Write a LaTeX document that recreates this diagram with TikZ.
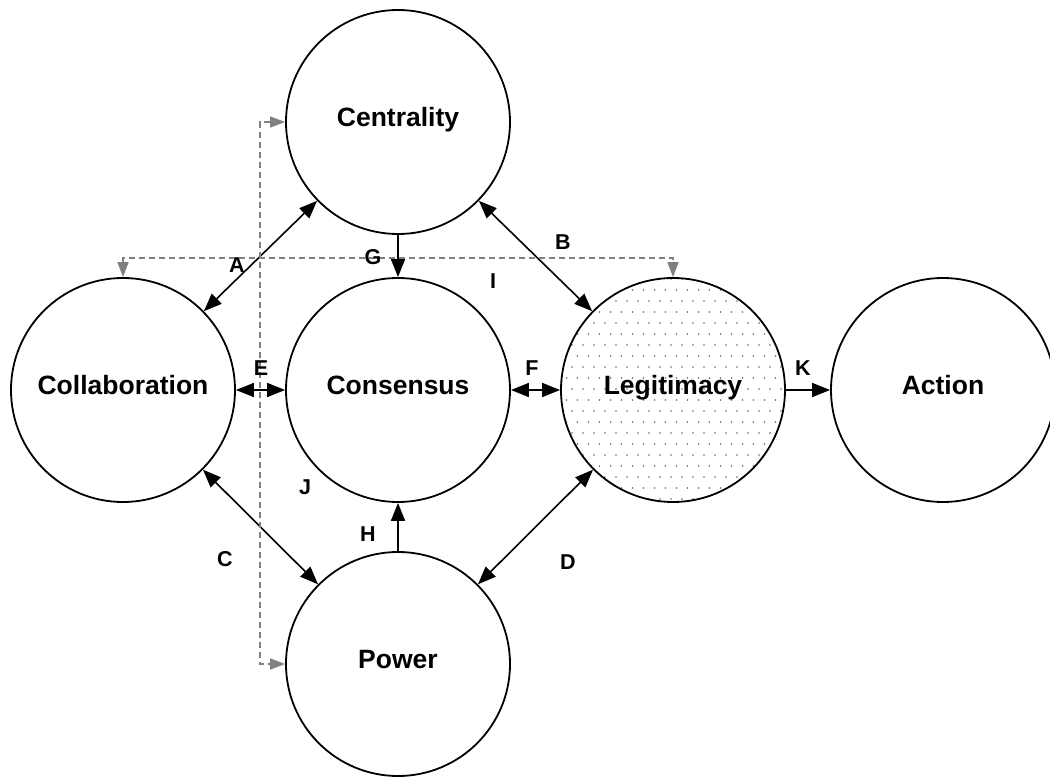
\documentclass[tikz,border=0pt]{standalone}
\usepackage{fontspec}
\setmainfont{Liberation Sans}
\usetikzlibrary{arrows.meta}
\definecolor{dg}{RGB}{128,128,128}
\definecolor{dotc}{RGB}{100,100,100}
\begin{document}
\begin{tikzpicture}[x=1pt,y=-1pt,
 circ/.style={circle,draw=black,line width=1.8pt,minimum size=224pt,inner sep=0pt,text height=0.98em,text depth=0pt,font=\fontsize{26.5}{31}\selectfont\bfseries},
 conn/.style={line width=1.6pt,-{Triangle[length=18pt,width=14pt]}},
 bi/.style={line width=1.6pt,{Triangle[length=18pt,width=14pt]}-{Triangle[length=18pt,width=14pt]}},
 dgray/.style={draw=dg,dash pattern=on 6pt off 4pt,line width=1.4pt,{Triangle[length=15pt,width=11pt]}-{Triangle[length=15pt,width=11pt]}},
 lab/.style={font=\fontsize{21.5}{26}\selectfont\bfseries}]
\useasboundingbox (0,0) rectangle (1050,778);
% dotted fill of Legitimacy
\begin{scope}
\clip (673,390) circle (112pt);
\foreach \i in {0,...,21} \foreach \j in {0,...,21} {
  \fill[dotc] ({561+\i*11+mod(\j,2)*5.5},{279+\j*11}) circle (0.9pt);
}
\end{scope}
\node[circ] (cen) at (398,122) {Centrality};
\node[circ] (col) at (123,390) {Collaboration};
\node[circ] (con) at (398,390) {Consensus};
\node[circ] (leg) at (673,390) {Legitimacy};
\node[circ] (act) at (943,390) {Action};
\node[circ] (pow) at (398,664) {Power};
% connectors
\draw[bi] (col) -- (cen);
\draw[bi] (cen) -- (leg);
\draw[bi] (col) -- (pow);
\draw[bi] (pow) -- (leg);
\draw[bi] (col.east) -- (con.west);
\draw[bi] (con.east) -- (leg.west);
\draw[conn] (cen.south) -- (con.north);
\draw[conn] (pow.north) -- (con.south);
\draw[conn] (leg.east) -- (act.west);
% dashed gray
\coordinate (ic) at (398,258);
\coordinate (jc) at (260,390);
\draw[dgray] (col.north) |- (ic) -| (leg.north);
\draw[dgray] (cen.west) -| (jc) |- (pow.west);
% labels
\node[lab] (la) at (237,265) {A};
\node[lab] (lb) at (563,242) {B};
\node[lab] (lc) at (225,559) {C};
\node[lab] (ld) at (568,562) {D};
\node[lab] (le) at (261,368) {E};
\node[lab] (lf) at (532,368) {F};
\node[lab] (lg) at (373,257) {G};
\node[lab] (lh) at (368,534) {H};
\node[lab] (li) at (493,281) {I};
\node[lab] (lj) at (305,487) {J};
\node[lab] (lk) at (803,368) {K};
\end{tikzpicture}
\end{document}
